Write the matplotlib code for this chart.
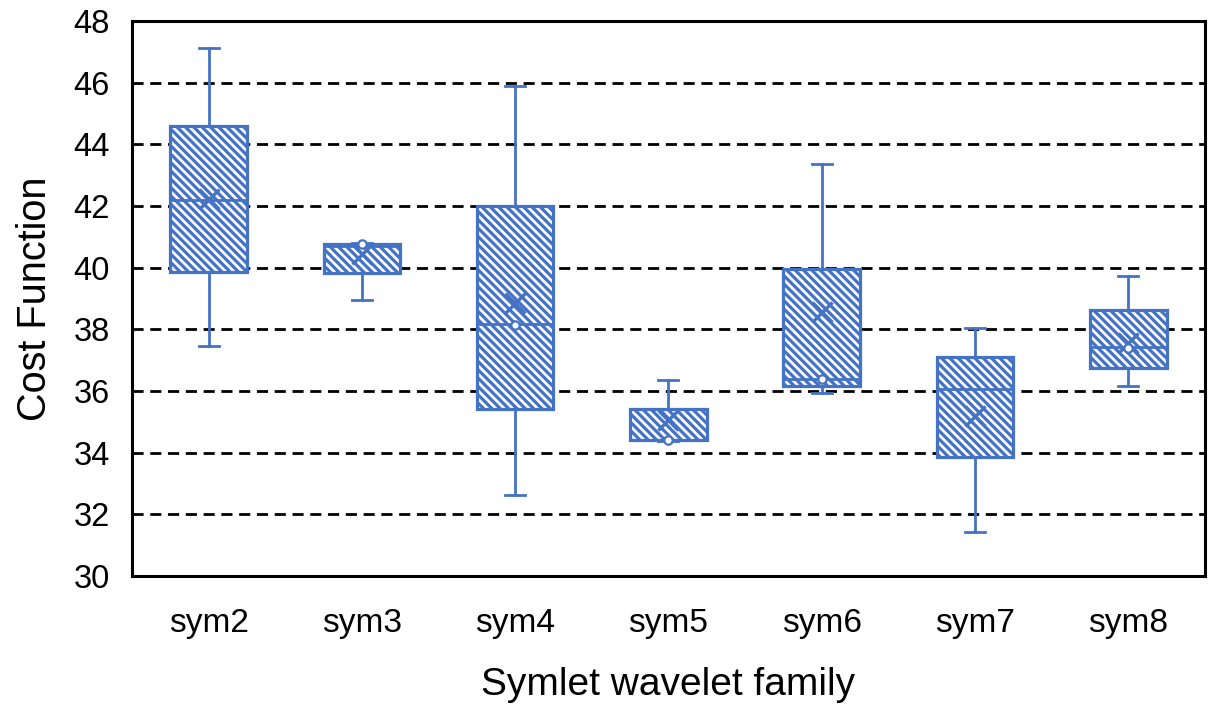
import matplotlib
matplotlib.use("Agg")
import matplotlib.pyplot as plt

categories = ["sym2", "sym3", "sym4", "sym5", "sym6", "sym7", "sym8"]
whisker_low = [37.47, 38.97, 32.64, 34.37, 35.94, 31.44, 36.17]
q1 = [39.85, 39.82, 35.41, 34.40, 36.17, 33.85, 36.75]
median = [42.20, 40.72, 38.18, 34.42, 36.40, 36.07, 37.42]
q3 = [44.61, 40.76, 42.00, 35.41, 39.95, 37.10, 38.64]
whisker_high = [47.12, 40.80, 45.90, 36.36, 43.37, 38.06, 39.72]
means = [42.22, 40.45, 38.86, 35.05, 38.55, 35.18, 37.57]
inner_points = [None, 40.78, 38.15, 34.40, 36.40, None, 37.40]

yticks = [30, 32, 34, 36, 38, 40, 42, 44, 46, 48]

blue = "#4472C4"
plt.rcParams["font.family"] = ["Liberation Sans", "DejaVu Sans"]
plt.rcParams["hatch.linewidth"] = 2.3
plt.rcParams["hatch.color"] = blue

fig = plt.figure(figsize=(12.17, 7.07), dpi=100)
ax = fig.add_axes([0.1085, 0.1853, 0.8815, 0.7847])

positions = [i + 0.5 for i in range(len(categories))]
stats = []
for i, c in enumerate(categories):
    stats.append(dict(label=c, whislo=whisker_low[i], q1=q1[i], med=median[i],
                      q3=q3[i], whishi=whisker_high[i], mean=means[i], fliers=[]))

bp = ax.bxp(stats, positions=positions, widths=0.5, patch_artist=True,
            showmeans=False, showfliers=False, capwidths=0.13,
            boxprops=dict(facecolor="white", edgecolor=blue, linewidth=2.3, hatch="\\\\\\\\"),
            medianprops=dict(color=blue, linewidth=2.0),
            whiskerprops=dict(color=blue, linewidth=2.0),
            capprops=dict(color=blue, linewidth=2.0))
for b in bp["boxes"]:
    b.set_zorder(3)
for k in ("medians", "whiskers", "caps"):
    for ln in bp[k]:
        ln.set_zorder(4)

ax.plot(positions, means, linestyle="none", marker="x", markersize=14,
        markeredgewidth=2.4, color=blue, zorder=5)
px = [p for p, v in zip(positions, inner_points) if v is not None]
py = [v for v in inner_points if v is not None]
ax.plot(px, py, linestyle="none", marker="o", markersize=6, markeredgewidth=1.6,
        markerfacecolor="white", markeredgecolor=blue, zorder=5)

ax.set_xlim(0, len(categories))
ax.set_ylim(30, 48)
ax.set_yticks(yticks)
ax.set_xticks(positions)
ax.set_xticklabels(categories)
ax.tick_params(axis="both", length=0)
ax.tick_params(axis="x", pad=23, labelsize=24)
ax.tick_params(axis="y", pad=16, labelsize=23.5)
ax.yaxis.grid(True, color="black", linewidth=2.0, linestyle=(0, (4.0, 2.4)), zorder=1)
ax.set_axisbelow(True)
for s in ax.spines.values():
    s.set_linewidth(2.2)
    s.set_color("black")

ax.set_ylabel("Cost Function", fontsize=28.5, labelpad=14)
ax.set_xlabel("Symlet wavelet family", fontsize=28, labelpad=20)

fig.savefig("out.png", dpi=100)
